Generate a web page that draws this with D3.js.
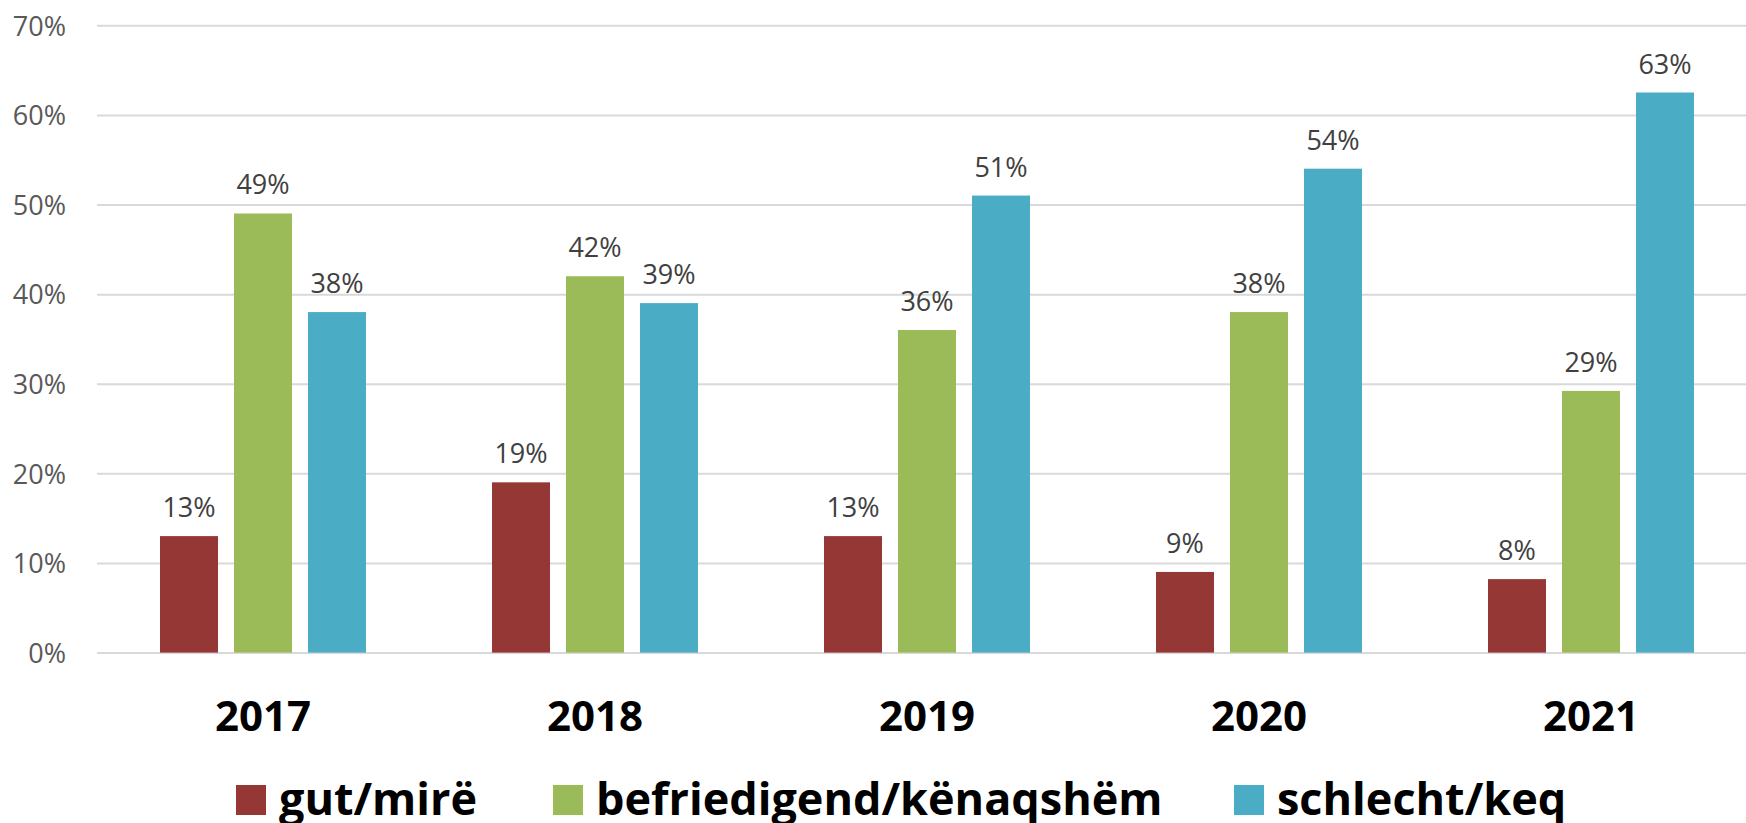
<!DOCTYPE html>
<html lang="de">
<head>
<meta charset="utf-8">
<title>gut / befriedigend / schlecht</title>
<script type="text/javascript" src="https://d3js.org/d3.v7.min.js"></script>
<style>
  body { margin: 0; background: #ffffff; }
  g.tick text { font-family: "Open Sans"; font-size: 27px; fill: #595959; }
  g.tick line { stroke: #d9d9d9; stroke-width: 2; }
</style>
</head>
<body>
<div id="bar-chart"></div>

<script type="text/javascript">
// data (percent)
const years = ["2017", "2018", "2019", "2020", "2021"];
const seriesNames = ["gut/mirë", "befriedigend/kënaqshëm", "schlecht/keq"];
const gut = [13, 19, 13, 9, 8.2];
const befriedigend = [49, 42, 36, 38, 29.2];
const schlecht = [38, 39, 51, 54, 62.5];
const yTicks = [0, 10, 20, 30, 40, 50, 60, 70];

const colors = ["#953735", "#9bbb59", "#4bacc6"];
const seriesValues = [gut, befriedigend, schlecht];

const width = 1746;
const height = 823;
const marginLeft = 97;
const plotRight = 1757;
const yTop = 25.3;
const yBottom = 652.6;

const svg = d3.select("#bar-chart")
  .append("svg")
  .attr("width", width)
  .attr("height", height);

const xScale = d3.scaleBand()
  .domain(years)
  .range([marginLeft, plotRight]);

const groupWidth = 206;
const xInner = d3.scaleBand()
  .domain(seriesNames)
  .range([0, groupWidth])
  .paddingInner(0.216);

const yScale = d3.scaleLinear()
  .domain([0, 70])
  .range([yBottom, yTop]);

// gridlines + y labels
const yAxis = d3.axisLeft(yScale)
  .tickValues(yTicks)
  .tickSize(-(width - marginLeft))
  .tickPadding(31)
  .tickFormat(d => d + "%");

svg.append("g")
  .attr("class", "axis y")
  .attr("transform", "translate(" + marginLeft + ",0)")
  .call(yAxis)
  .call(g => g.select(".domain").remove())
  .call(g => g.selectAll(".tick text").attr("dy", "0.36em"));

// bars
const rows = [];
years.forEach((yr, i) => {
  seriesNames.forEach((s, j) => {
    rows.push({ year: yr, series: s, idx: j, value: seriesValues[j][i] });
  });
});

const groupOffset = (xScale.bandwidth() - groupWidth) / 2;

const bars = svg.append("g").attr("class", "bars");

bars.selectAll("rect")
  .data(rows)
  .enter()
  .append("rect")
  .attr("x", d => xScale(d.year) + groupOffset + xInner(d.series))
  .attr("y", d => yScale(d.value))
  .attr("width", xInner.bandwidth())
  .attr("height", d => yBottom - yScale(d.value))
  .attr("fill", d => colors[d.idx]);

// value labels
bars.selectAll("text")
  .data(rows)
  .enter()
  .append("text")
  .attr("x", d => xScale(d.year) + groupOffset + xInner(d.series) + xInner.bandwidth() / 2)
  .attr("y", d => yScale(d.value) - 19)
  .attr("text-anchor", "middle")
  .attr("font-family", "Open Sans")
  .attr("font-size", 27)
  .attr("fill", "#404040")
  .text(d => Math.round(d.value) + "%");

// year labels
svg.append("g")
  .attr("class", "axis x")
  .selectAll("text")
  .data(years)
  .enter()
  .append("text")
  .attr("x", d => xScale(d) + xScale.bandwidth() / 2)
  .attr("y", 731)
  .attr("text-anchor", "middle")
  .attr("font-family", "Open Sans")
  .attr("font-weight", "bold")
  .attr("font-size", 42)
  .attr("fill", "#000000")
  .text(d => d);

// legend
const legendX = [236, 553, 1234];
const legend = svg.append("g").attr("class", "legend");

const items = legend.selectAll("g")
  .data(seriesNames)
  .enter()
  .append("g")
  .attr("transform", (d, i) => "translate(" + legendX[i] + ",785)");

items.append("rect")
  .attr("width", 30)
  .attr("height", 30)
  .attr("fill", (d, i) => colors[i]);

items.append("text")
  .attr("x", 43)
  .attr("y", 30)
  .attr("font-family", "Open Sans")
  .attr("font-weight", "bold")
  .attr("font-size", 45)
  .attr("fill", "#000000")
  .text(d => d);
</script>
</body>
</html>
